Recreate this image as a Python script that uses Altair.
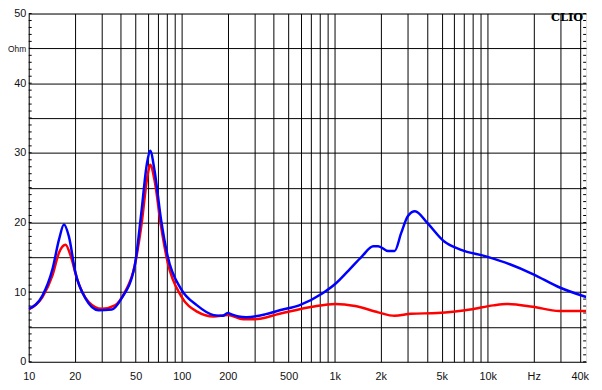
import altair as alt
import pandas as pd

# Blue curve (Ohm vs Hz)
blue_f = [10, 12.3, 14.3, 15.8, 17.0, 18.3, 20.2, 23.5, 28.6, 34.9, 40.4, 49.3, 54.4, 59.2, 62.2,
          66.4, 73.3, 80.9, 98.7, 126, 162, 185, 200, 212, 235, 265, 350, 437, 586, 829, 1011,
          1231, 1503, 1787, 1924, 2230, 2465, 2722, 3006, 3352, 4039, 5176, 6632, 9860, 13960,
          19730, 29320, 44000]
blue_z = [7.6, 9.5, 13.3, 17.6, 19.7, 18.0, 12.8, 9.1, 7.4, 7.5, 9.1, 13.8, 21.3, 28.4, 30.3,
          27.5, 20.4, 15.2, 10.5, 8.1, 6.7, 6.6, 7.0, 6.8, 6.5, 6.4, 6.8, 7.4, 8.1, 9.8, 11.2,
          13.1, 15.1, 16.6, 16.6, 15.9, 15.9, 18.5, 20.9, 21.6, 19.9, 17.3, 16.1, 15.1, 14.0,
          12.6, 10.7, 9.3]

# Red curve
red_f = [10, 12.3, 14.3, 15.8, 17.4, 18.8, 20.7, 24.6, 30, 36.6, 42.5, 49.3, 54.4, 60.1, 62.2,
         66.4, 73.3, 80.9, 98.7, 126, 162, 200, 253, 300, 437, 715, 1011, 1361, 1924, 2465,
         3157, 4689, 7693, 10890, 13260, 19730, 29320, 44000]
red_z = [7.5, 9.3, 12.4, 15.7, 16.8, 15.2, 11.9, 8.6, 7.6, 8.1, 10.0, 13.8, 19.4, 27.0, 28.3,
         26.1, 19.4, 14.3, 9.5, 7.2, 6.5, 6.7, 6.1, 6.1, 6.9, 7.9, 8.3, 8.0, 7.1, 6.6,
         6.9, 7.0, 7.5, 8.1, 8.3, 7.9, 7.3, 7.3]

x_grid = [10, 20, 30, 40, 50, 60, 70, 80, 90, 100, 200, 300, 400, 500, 600, 700, 800, 900,
          1000, 2000, 3000, 4000, 5000, 6000, 7000, 8000, 9000, 10000, 20000, 30000, 40000]
x_labels = {10: "10", 20: "20", 50: "50", 100: "100", 200: "200", 500: "500", 1000: "1k",
            2000: "2k", 5000: "5k", 10000: "10k", 20000: "Hz", 40000: "40k"}
y_grid = [0, 5, 10, 15, 20, 25, 30, 35, 40, 45, 50]
y_labels = {0: "0", 10: "10", 20: "20", 30: "30", 40: "40", 45: "Ohm", 50: "50"}
minor_y = list(range(0, 51))

W, H = 565, 353

def expr(d):
    s = "''"
    for k, v in d.items():
        s = f"datum.value=={k}?'{v}':(" + s + ")"
    return s

df_b = pd.DataFrame({"f": blue_f, "z": blue_z, "s": "blue"})
df_r = pd.DataFrame({"f": red_f, "z": red_z, "s": "red"})

xs = alt.Scale(type="log", domain=[10, 44000], nice=False)
ys = alt.Scale(domain=[0, 50], nice=False, zero=False)

xax = alt.Axis(values=x_grid, labelExpr=expr(x_labels), grid=True, gridColor="black",
               gridOpacity=1, gridWidth=1, ticks=False, domain=False, title=None,
               labelOverlap=False, labelFlush=False, labelPadding=9, labelFont="Liberation Sans",
               labelFontSize=11, labelColor="#111")
yax = alt.Axis(values=y_grid, labelExpr=expr(y_labels), grid=True, gridColor="black",
               gridOpacity=1, gridWidth=1, ticks=False, domain=False, title=None,
               labelOverlap=False, labelFlush=False, labelPadding=3, labelFont="Liberation Sans",
               labelFontSize={"condition": {"test": "datum.value==45", "value": 8.5}, "value": 11},
               labelColor="#111")

red = alt.Chart(df_r).mark_line(color="#ff0000", strokeWidth=2.5, interpolate="monotone", clip=True).encode(
    x=alt.X("f:Q", scale=xs, axis=xax), y=alt.Y("z:Q", scale=ys, axis=yax))
blue = alt.Chart(df_b).mark_line(color="#0000ff", strokeWidth=2.5, interpolate="monotone", clip=True).encode(
    x=alt.X("f:Q", scale=xs, axis=xax), y=alt.Y("z:Q", scale=ys, axis=yax))

dm = pd.DataFrame({"z": minor_y})
tick_l = alt.Chart(dm).mark_rule(color="black", strokeWidth=1).encode(
    y=alt.Y("z:Q", scale=ys, axis=yax), x=alt.value(0), x2=alt.value(3))
tick_r = alt.Chart(dm).mark_rule(color="black", strokeWidth=1).encode(
    y=alt.Y("z:Q", scale=ys, axis=yax), x=alt.value(W - 3), x2=alt.value(W))

clio = alt.Chart(pd.DataFrame({"t": ["CLIO"]})).mark_text(
    font="DejaVu Serif", fontWeight="bold", fontSize=11.5, align="right", baseline="alphabetic",
    color="black").encode(text="t:N", x=alt.value(W - 3), y=alt.value(8))

chart = alt.layer(tick_l, tick_r, red, blue, clio).properties(
    width=W, height=H, autosize=alt.AutoSizeParams(type="none"),
    padding={"left": 21, "top": 3, "right": 8, "bottom": 26}
).configure_view(stroke="black", strokeWidth=2).configure(background="white")

chart.save("out.html", embed_options={"renderer": "svg", "actions": False})
